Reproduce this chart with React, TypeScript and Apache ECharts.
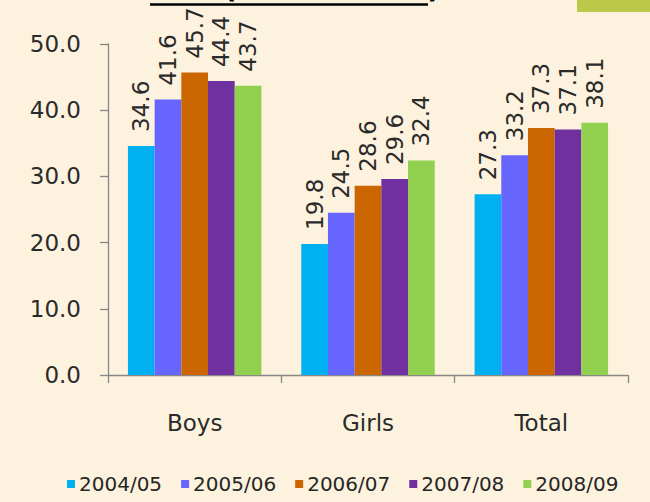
import React, { useEffect, useRef } from "react";
import * as echarts from "echarts";

const categories = ["Boys", "Girls", "Total"];
const years = ["2004/05", "2005/06", "2006/07", "2007/08", "2008/09"];
const values2004 = [34.6, 19.8, 27.3];
const values2005 = [41.6, 24.5, 33.2];
const values2006 = [45.7, 28.6, 37.3];
const values2007 = [44.4, 29.6, 37.1];
const values2008 = [43.7, 32.4, 38.1];
const seriesValues = [values2004, values2005, values2006, values2007, values2008];
const colors = ["#00B0F0", "#6666FF", "#CC6600", "#7030A0", "#92D050"];
const titleText = "GER (Grades 9-12)";

const FONT = "DejaVu Sans";

export default function App() {
  const ref = useRef<HTMLDivElement>(null);
  useEffect(() => {
    document.body.style.margin = "0";
    const chart = echarts.init(ref.current!, null, { renderer: "svg" });
    chart.setOption({
      animation: false,
      backgroundColor: "#FCF2DE",
      textStyle: { fontFamily: FONT },
      grid: { left: 108, right: 22, top: 44, bottom: 127 },
      legend: {
        data: years,
        bottom: 3,
        left: 62,
        itemWidth: 8,
        itemHeight: 8,
        itemGap: 19,
        icon: "rect",
        textStyle: { fontFamily: FONT, fontSize: 20, color: "#262626", padding: [0, 0, 0, -1] },
      },
      xAxis: {
        type: "category",
        data: categories,
        axisLine: { show: true, lineStyle: { color: "#888888", width: 1.3 } },
        axisTick: { show: true, length: 8, lineStyle: { color: "#888888", width: 1.3 } },
        axisLabel: { margin: 36, fontFamily: FONT, fontSize: 23, color: "#2a2a2a" },
      },
      yAxis: {
        type: "value",
        min: 0,
        max: 50,
        interval: 10,
        splitLine: { show: false },
        axisLine: { show: true, lineStyle: { color: "#888888", width: 1.3 } },
        axisTick: { show: true, length: 8, lineStyle: { color: "#888888", width: 1.3 } },
        axisLabel: {
          margin: 27,
          fontFamily: FONT,
          fontSize: 23,
          color: "#2a2a2a",
          formatter: (v: number) => v.toFixed(1),
        },
      },
      graphic: [
        {
          type: "text",
          left: 150,
          top: -26,
          style: { text: titleText, fontFamily: FONT, fontSize: 28, fontWeight: "bold", fill: "#000" },
        },
        {
          type: "line",
          shape: { x1: 150, y1: 4.5, x2: 428, y2: 4.5 },
          style: { stroke: "#000", lineWidth: 2.5 },
        },
        {
          type: "rect",
          shape: { x: 577, y: 0, width: 73, height: 12 },
          style: { fill: "#BCC84A" },
        },
      ],
      series: years.map((y, i) => ({
        name: y,
        type: "bar",
        data: seriesValues[i],
        barGap: "0%",
        barCategoryGap: "23%",
        itemStyle: { color: colors[i] },
        label: {
          show: true,
          position: "top",
          rotate: 90,
          align: "left",
          verticalAlign: "middle",
          distance: 14,
          fontFamily: FONT,
          fontSize: 23,
          color: "#2a2a2a",
          formatter: (p: any) => p.value.toFixed(1),
        },
      })),
    });
    return () => chart.dispose();
  }, []);
  return (
    <div
      ref={ref}
      style={{ position: "absolute", left: 0, top: 0, width: 650, height: 502 }}
    />
  );
}
